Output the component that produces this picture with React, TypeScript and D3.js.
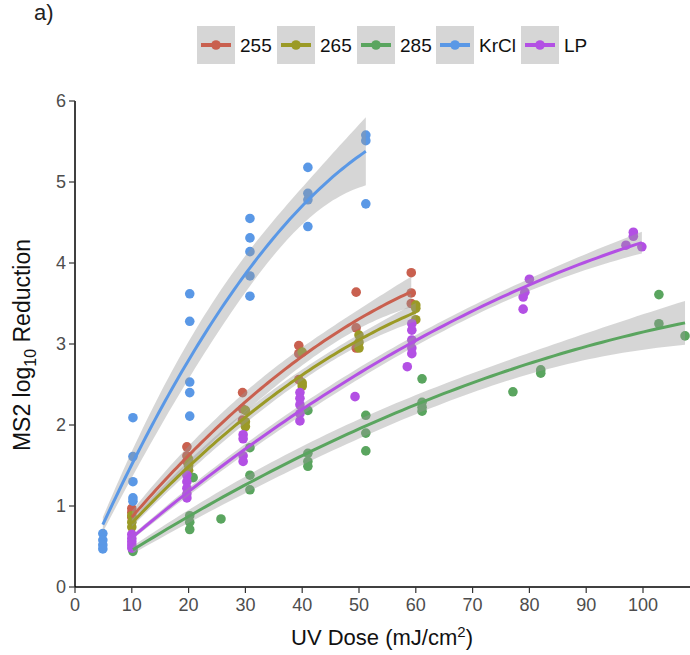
import React from 'react';
import * as d3 from 'd3';

// dose (mJ/cm2), log10 reduction
const s255 = [
  [10, 0.97], [10, 0.92], [10, 0.86],
  [19.7, 1.73], [19.7, 1.62], [19.7, 1.55],
  [29.5, 2.4], [29.5, 2.2], [29.5, 2.06],
  [39.4, 2.98], [39.4, 2.88], [39.4, 2.56],
  [49.5, 3.64], [49.5, 3.2], [49.5, 2.95],
  [59.2, 3.88], [59.2, 3.63], [59.2, 3.5],
];
const s265 = [
  [10, 0.88], [10, 0.8], [10, 0.74],
  [20, 1.58], [20, 1.5], [20, 1.44],
  [30, 2.18], [30, 2.04], [30, 1.98],
  [40, 2.9], [40, 2.52], [40, 2.48],
  [50, 3.11], [50, 3.02], [50, 2.95],
  [60, 3.48], [60, 3.44], [60, 3.3],
];
const s285 = [
  [10.2, 0.47], [10.2, 0.44],
  [20.8, 1.35], [20.2, 0.88], [20.2, 0.8], [20.2, 0.71],
  [25.7, 0.84],
  [30.8, 1.72], [30.8, 1.38], [30.8, 1.2],
  [41, 2.18], [41, 1.65], [41, 1.55], [41, 1.49],
  [51.2, 2.12], [51.2, 1.9], [51.2, 1.68],
  [61.1, 2.57], [61.1, 2.28], [61.1, 2.22], [61.1, 2.17],
  [77.1, 2.41],
  [82, 2.68], [82, 2.64],
  [102.8, 3.61], [102.8, 3.25],
  [107.4, 3.1],
];
const sKrCl = [
  [4.9, 0.66], [4.9, 0.58], [4.9, 0.52], [4.9, 0.47],
  [10.2, 2.09], [10.2, 1.61], [10.2, 1.3], [10.2, 1.1], [10.2, 1.06],
  [20.2, 3.62], [20.2, 3.28], [20.2, 2.53], [20.2, 2.4], [20.2, 2.11],
  [30.8, 4.55], [30.8, 4.31], [30.8, 4.14], [30.8, 3.84], [30.8, 3.59],
  [41, 5.18], [41, 4.86], [41, 4.78], [41, 4.45],
  [51.2, 5.58], [51.2, 5.51], [51.2, 4.73],
];
const sLP = [
  [10, 0.65], [10, 0.6], [10, 0.56], [10, 0.52], [10, 0.48],
  [19.7, 1.38], [19.7, 1.3], [19.7, 1.22], [19.7, 1.15], [19.7, 1.1],
  [29.6, 1.88], [29.6, 1.83], [29.6, 1.62], [29.6, 1.55],
  [39.6, 2.4], [39.6, 2.33], [39.6, 2.25], [39.6, 2.14], [39.6, 2.05],
  [49.3, 2.35],
  [59.3, 3.25], [59.3, 3.17], [59.3, 3.05], [59.3, 2.95], [59.3, 2.88], [58.5, 2.72],
  [80, 3.8], [79.2, 3.64], [78.9, 3.58], [78.9, 3.43],
  [98.3, 4.38], [98.3, 4.33], [97, 4.22], [99.8, 4.2],
];

const seriesNames = ['255', '265', '285', 'KrCl', 'LP'];
const seriesData = [s255, s265, s285, sKrCl, sLP];
const colors = ['#c9604f', '#9b9a26', '#5aa55f', '#5a98e6', '#b350e4'];
const xTicks = [0, 10, 20, 30, 40, 50, 60, 70, 80, 90, 100];
const yTicks = [0, 1, 2, 3, 4, 5, 6];

const FONT = '"Liberation Sans", Arial, sans-serif';

// lm(y ~ 0 + x + I(x^2)) with 95% confidence band, like geom_smooth
function fitQuad(pts) {
  const n = pts.length;
  let sxx = 0, sx3 = 0, sx4 = 0, sxy = 0, sx2y = 0;
  pts.forEach(([x, y]) => {
    sxx += x * x; sx3 += x ** 3; sx4 += x ** 4;
    sxy += x * y; sx2y += x * x * y;
  });
  const det = sxx * sx4 - sx3 * sx3;
  const inv = [[sx4 / det, -sx3 / det], [-sx3 / det, sxx / det]];
  const b1 = inv[0][0] * sxy + inv[0][1] * sx2y;
  const b2 = inv[1][0] * sxy + inv[1][1] * sx2y;
  const pred = x => b1 * x + b2 * x * x;
  const sse = d3.sum(pts, ([x, y]) => (y - pred(x)) ** 2);
  const df = n - 2;
  const s2 = sse / df;
  const z = 1.96;
  const t = z + (z ** 3 + z) / (4 * df) + (5 * z ** 5 + 16 * z ** 3 + 3 * z) / (96 * df * df);
  const [x0, x1] = d3.extent(pts, p => p[0]);
  return d3.range(81).map(i => {
    const xv = x0 + (x1 - x0) * i / 80;
    const r = [xv, xv * xv];
    const q = r[0] * r[0] * inv[0][0] + 2 * r[0] * r[1] * inv[0][1] + r[1] * r[1] * inv[1][1];
    const se = Math.sqrt(s2 * q);
    const p = pred(xv);
    return { x: xv, y: p, lo: p - t * se, hi: p + t * se };
  });
}

export default function App() {
  const width = 690, height = 655;
  const x = d3.scaleLinear().domain([0, 100]).range([75, 643]);
  const y = d3.scaleLinear().domain([0, 6]).range([587, 101]);

  const line = d3.line().x(d => x(d.x)).y(d => y(d.y));
  const area = d3.area().x(d => x(d.x)).y0(d => y(d.lo)).y1(d => y(d.hi));
  const fits = seriesData.map(fitQuad);

  const legendX = [197, 277, 357, 436, 521];

  return (
    <svg width={width} height={height} style={{ position: 'absolute', left: 0, top: 0, background: '#fff' }}
      fontFamily={FONT}>
      <text x={34} y={20} fontSize={22} fill="#222">a)</text>

      {/* legend */}
      {seriesNames.map((name, i) => (
        <g key={name} transform={`translate(${legendX[i]},26)`}>
          <rect x={0} y={0} width={38} height={38} fill="#d6d6d6" />
          <line x1={4} x2={34} y1={19} y2={19} stroke={colors[i]} strokeWidth={4} />
          <circle cx={19} cy={19} r={4.8} fill={colors[i]} />
          <text x={43} y={26} fontSize={19} fill="#111">{name}</text>
        </g>
      ))}

      {/* points */}
      {seriesData.map((pts, i) => pts.map((p, j) => (
        <circle key={`${i}-${j}`} cx={x(p[0])} cy={y(p[1])} r={4.8} fill={colors[i]} />
      )))}

      {/* smooths */}
      {fits.map((f, i) => (
        <g key={i}>
          <path d={area(f)} fill="#999" fillOpacity={0.4} />
          <path d={line(f)} fill="none" stroke={colors[i]} strokeWidth={3} />
        </g>
      ))}

      {/* axes */}
      <line x1={75} x2={690} y1={587} y2={587} stroke="#000" strokeWidth={1.5} />
      <line x1={75} x2={75} y1={587} y2={101} stroke="#000" strokeWidth={1.5} />
      {xTicks.map(t => (
        <g key={t}>
          <line x1={x(t)} x2={x(t)} y1={587} y2={593} stroke="#333" strokeWidth={1.2} />
          <text x={x(t)} y={611} fontSize={18} fill="#4d4d4d" textAnchor="middle">{t}</text>
        </g>
      ))}
      {yTicks.map(t => (
        <g key={t}>
          <line x1={69} x2={75} y1={y(t)} y2={y(t)} stroke="#333" strokeWidth={1.2} />
          <text x={66} y={y(t) + 6} fontSize={18} fill="#4d4d4d" textAnchor="end">{t}</text>
        </g>
      ))}

      <text x={382} y={645} fontSize={22} fill="#111" textAnchor="middle">
        UV Dose (mJ/cm<tspan dy={-8} fontSize={15}>2</tspan><tspan dy={8}>)</tspan>
      </text>
      <text transform="translate(30,345) rotate(-90)" fontSize={23} fill="#111" textAnchor="middle">
        MS2 log<tspan dy={6} fontSize={16}>10</tspan><tspan dy={-6}> Reduction</tspan>
      </text>
    </svg>
  );
}
